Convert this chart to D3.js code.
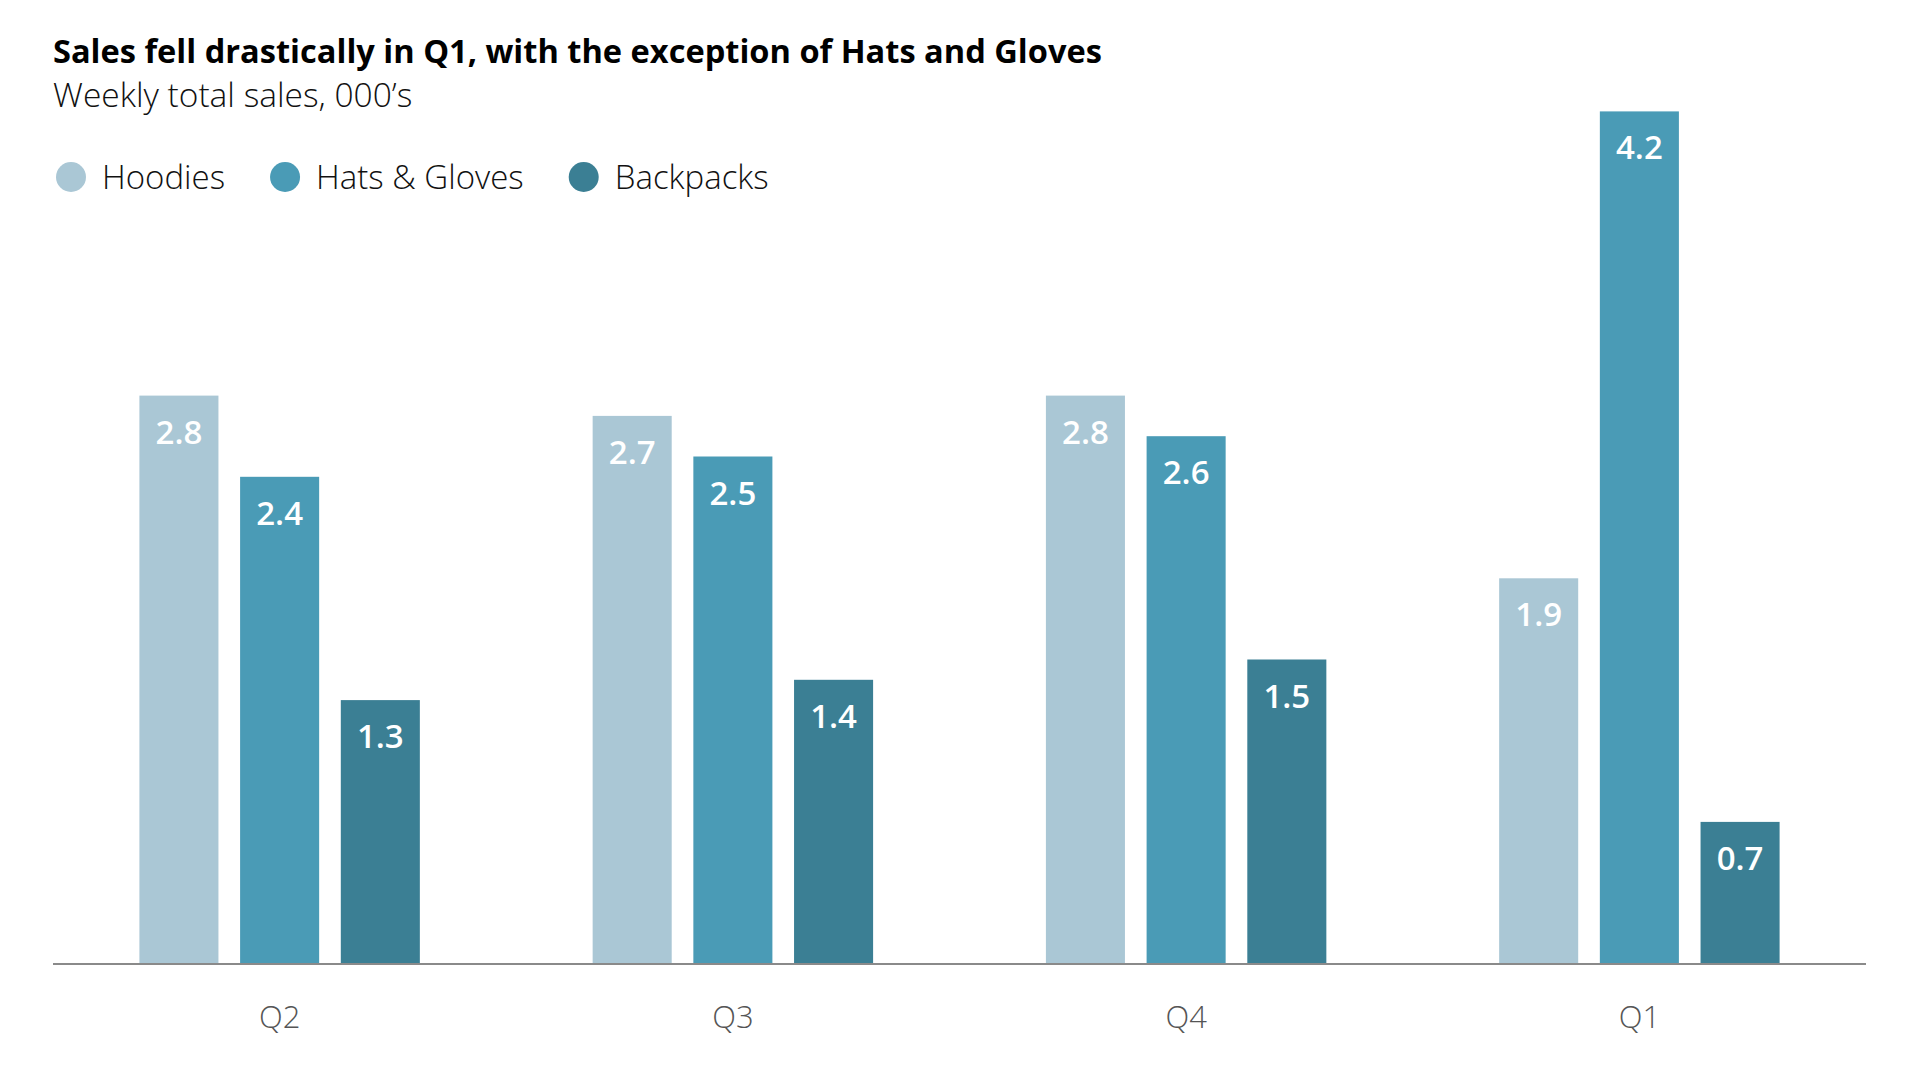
<!DOCTYPE html>
<html>
<head>
<meta charset="utf-8">
<script src="https://cdn.jsdelivr.net/npm/d3@7"></script>
<style>
  body { margin: 0; background: #fff; }
  svg { display: block; font-family: "Open Sans", sans-serif; }
</style>
</head>
<body>
<svg id="chart" width="1920" height="1080"></svg>
<script>

// data
var quarters = ['Q2', 'Q3', 'Q4', 'Q1'];
var series = ['Hoodies', 'Hats & Gloves', 'Backpacks'];
var hoodies = [2.8, 2.7, 2.8, 1.9];
var hatsGloves = [2.4, 2.5, 2.6, 4.2];
var backpacks = [1.3, 1.4, 1.5, 0.7];
var colors = ['#aac7d5', '#4a9bb6', '#3b7f94'];

var svg = d3.select('#chart');

var left = 53, right = 1866, baseY = 964;

var valuesBySeries = [hoodies, hatsGloves, backpacks];
var rows = [];
quarters.forEach(function(q, i) {
    series.forEach(function(s, j) {
        rows.push({quarter: q, series: s, value: valuesBySeries[j][i], color: colors[j]});
    });
});

var x0 = d3.scaleBand()
    .domain(quarters)
    .range([left, right]);

var x1 = d3.scaleBand()
    .domain(series)
    .range([0, x0.bandwidth()])
    .paddingInner(0.215)
    .paddingOuter(0.858);

// 203 px per unit -> 4.2 reaches y ~111
var y = d3.scaleLinear()
    .domain([0, 4.2])
    .range([baseY, baseY - 4.2 * 203]);

// title + subtitle
svg.append('text')
    .attr('x', left)
    .attr('y', 63)
    .style('font-size', '32.6px')
    .style('font-weight', 700)
    .style('fill', '#000')
    .text('Sales fell drastically in Q1, with the exception of Hats and Gloves');

svg.append('text')
    .attr('x', left)
    .attr('y', 107)
    .style('font-size', '33.5px')
    .style('font-weight', 300)
    .style('fill', '#111')
    .text('Weekly total sales, 000\u2019s');

// legend
var lx = left + 18;
series.forEach(function(s, j) {
    svg.append('circle')
        .attr('cx', lx)
        .attr('cy', 177)
        .attr('r', 15)
        .style('fill', colors[j]);
    var t = svg.append('text')
        .attr('x', lx + 31)
        .attr('y', 189)
        .style('font-size', '33px')
        .style('font-weight', 300)
        .style('fill', '#111')
        .text(s);
    lx = lx + 31 + t.node().getComputedTextLength() + 60;
});

// bars
var groups = svg.selectAll('g.quarter')
    .data(quarters)
    .enter().append('g')
    .attr('class', 'quarter')
    .attr('transform', function(d) { return 'translate(' + x0(d) + ',0)'; });

groups.selectAll('rect')
    .data(function(q) { return rows.filter(function(r) { return r.quarter == q; }); })
    .enter().append('rect')
    .attr('x', function(d) { return x1(d.series); })
    .attr('y', function(d) { return y(d.value); })
    .attr('width', x1.bandwidth())
    .attr('height', function(d) { return baseY - y(d.value); })
    .style('fill', function(d) { return d.color; });

groups.selectAll('text.val')
    .data(function(q) { return rows.filter(function(r) { return r.quarter == q; }); })
    .enter().append('text')
    .attr('class', 'val')
    .attr('x', function(d) { return x1(d.series) + x1.bandwidth() / 2; })
    .attr('y', function(d) { return y(d.value) + 48; })
    .attr('text-anchor', 'middle')
    .style('font-size', '33px')
    .style('font-weight', 600)
    .style('fill', '#fff')
    .text(function(d) { return d.value.toFixed(1); });

// x axis
var xAxis = svg.append('g')
    .attr('transform', 'translate(0,' + baseY + ')')
    .call(d3.axisBottom(x0).tickSize(0).tickPadding(0));

xAxis.select('.domain')
    .attr('d', 'M' + left + ',0H' + right)
    .style('stroke', '#8a8a8a')
    .style('stroke-width', 2);

xAxis.selectAll('.tick text')
    .attr('y', 64)
    .attr('dy', 0)
    .style('font-family', '"Open Sans", sans-serif')
    .style('font-size', '31px')
    .style('font-weight', 300)
    .style('fill', '#555');

</script>
</body>
</html>
